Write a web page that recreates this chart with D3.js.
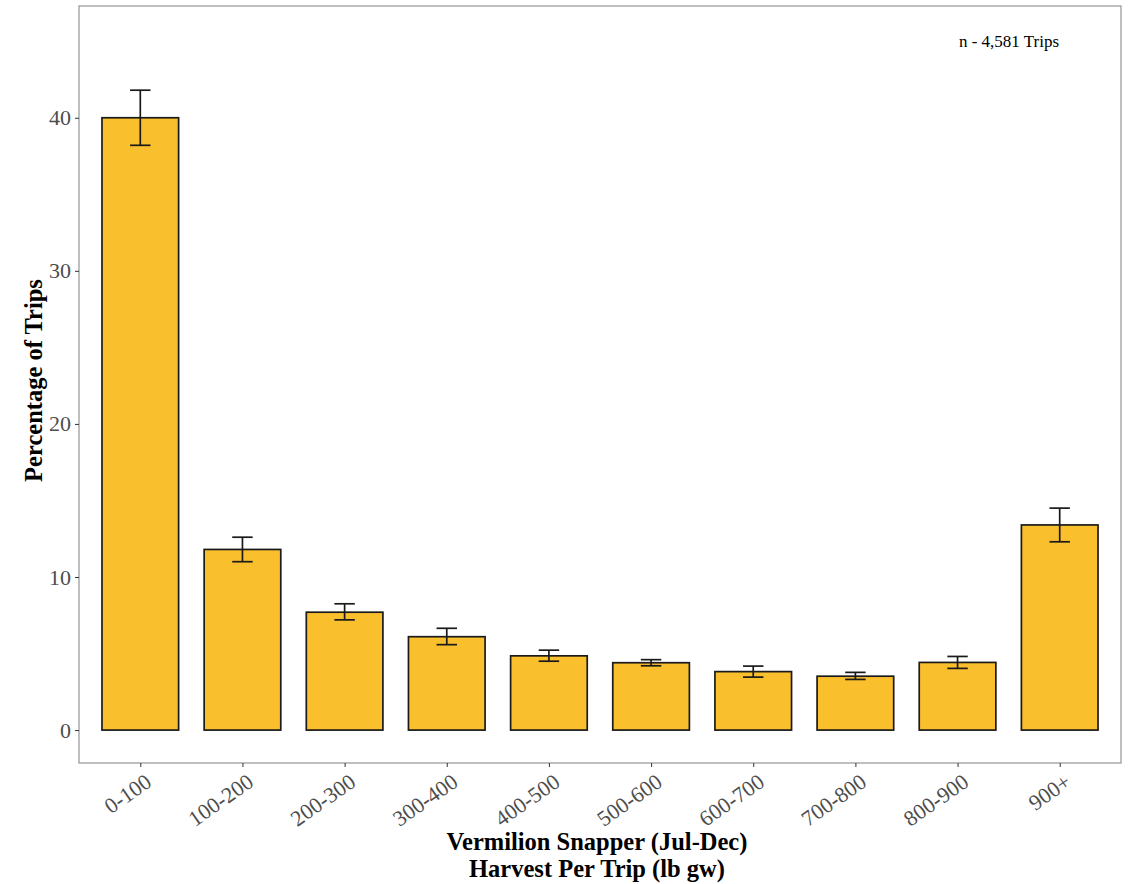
<!DOCTYPE html>
<html>
<head>
<meta charset="utf-8">
<script src="https://cdn.jsdelivr.net/npm/d3@7"></script>
<style>
  body { margin: 0; background: #fff; }
  svg { display: block; }
  text { font-family: "Liberation Serif", "Times New Roman", serif; }
</style>
</head>
<body>
<svg id="chart" width="1130" height="884"></svg>
<script>
const categories = ["0-100","100-200","200-300","300-400","400-500","500-600","600-700","700-800","800-900","900+"];
const values     = [40.0, 11.8, 7.7, 6.1, 4.85, 4.4, 3.82, 3.52, 4.42, 13.4];
const errLow     = [38.2, 11.0, 7.2, 5.58, 4.5, 4.2, 3.46, 3.31, 4.03, 12.3];
const errHigh    = [41.8, 12.6, 8.25, 6.65, 5.22, 4.6, 4.18, 3.77, 4.81, 14.5];
const yTicks     = [0, 10, 20, 30, 40];
const annotation = "n - 4,581 Trips";

const svg = d3.select("#chart");
const panel = {left: 79, top: 6, right: 1121, bottom: 763};

const xc = d3.scalePoint().domain(categories).range([panel.left, panel.right]).padding(0.6);
const step = xc.step();
const barW = step * 0.75;
const errW = step * 0.2;

const y = d3.scaleLinear().domain([-2.15, 47.3]).range([panel.bottom, panel.top]);

svg.append("rect").attr("x", panel.left).attr("y", panel.top)
  .attr("width", panel.right - panel.left).attr("height", panel.bottom - panel.top)
  .attr("fill", "#fff");

// bars
svg.append("g").selectAll("rect").data(categories).join("rect")
  .attr("x", d => xc(d) - barW / 2)
  .attr("y", (d, i) => y(values[i]))
  .attr("width", barW)
  .attr("height", (d, i) => y(0) - y(values[i]))
  .attr("fill", "#FABF2D")
  .attr("stroke", "#1a1a1a")
  .attr("stroke-width", 1.7);

// error bars
const eg = svg.append("g").attr("stroke", "#1a1a1a").attr("stroke-width", 1.7).attr("fill", "none");
categories.forEach((c, i) => {
  const cx = xc(c);
  eg.append("line").attr("x1", cx).attr("x2", cx).attr("y1", y(errLow[i])).attr("y2", y(errHigh[i]));
  eg.append("line").attr("x1", cx - errW / 2).attr("x2", cx + errW / 2).attr("y1", y(errLow[i])).attr("y2", y(errLow[i]));
  eg.append("line").attr("x1", cx - errW / 2).attr("x2", cx + errW / 2).attr("y1", y(errHigh[i])).attr("y2", y(errHigh[i]));
});

// panel border
svg.append("rect").attr("x", panel.left).attr("y", panel.top)
  .attr("width", panel.right - panel.left).attr("height", panel.bottom - panel.top)
  .attr("fill", "none").attr("stroke", "#8a8a8a").attr("stroke-width", 1.1);

// y axis
const yAxis = svg.append("g").attr("transform", `translate(${panel.left},0)`)
  .call(d3.axisLeft(y).tickValues(yTicks).tickSize(4).tickPadding(4).tickFormat(d3.format("d")));
yAxis.select(".domain").remove();
yAxis.selectAll(".tick line").attr("stroke", "#333");
yAxis.selectAll(".tick text").attr("fill", "#4d4d4d").style("font-size", "22px")
  .style("font-family", "'Liberation Serif', serif");

// x axis
const xAxis = svg.append("g").attr("transform", `translate(0,${panel.bottom})`)
  .call(d3.axisBottom(xc).tickSize(4).tickPadding(4));
xAxis.select(".domain").remove();
xAxis.selectAll(".tick line").attr("stroke", "#333");
xAxis.selectAll(".tick text")
  .attr("fill", "#4d4d4d").style("font-size", "22px")
  .style("font-family", "'Liberation Serif', serif")
  .attr("text-anchor", "end")
  .attr("dy", null)
  .attr("y", 0)
  .attr("dominant-baseline", "hanging")
  .attr("transform", "translate(3,9) rotate(-35)");

// axis titles
svg.append("text").attr("x", 597).attr("y", 850).attr("text-anchor", "middle")
  .style("font-size", "24.5px").style("font-weight", "bold").attr("fill", "#000")
  .text("Vermilion Snapper (Jul-Dec)");
svg.append("text").attr("x", 597).attr("y", 877).attr("text-anchor", "middle")
  .style("font-size", "24.5px").style("font-weight", "bold").attr("fill", "#000")
  .text("Harvest Per Trip (lb gw)");
svg.append("text").attr("transform", `translate(42,${(panel.top + panel.bottom) / 2 - 4}) rotate(-90)`)
  .attr("text-anchor", "middle")
  .style("font-size", "24.5px").style("font-weight", "bold").attr("fill", "#000")
  .text("Percentage of Trips");

// annotation
svg.append("text").attr("x", 1009).attr("y", 47).attr("text-anchor", "middle")
  .style("font-size", "17px").attr("fill", "#000")
  .text(annotation);
</script>
</body>
</html>
